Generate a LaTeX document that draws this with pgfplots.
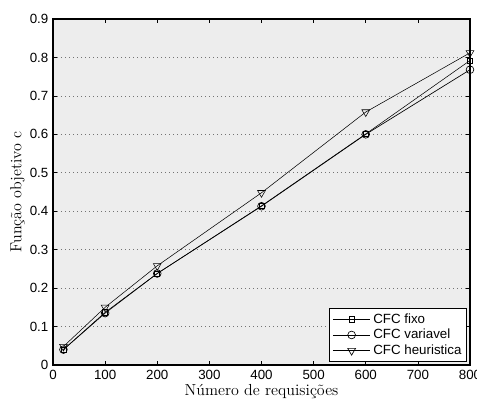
\documentclass[border=0pt]{standalone}
\usepackage{fontspec}
\setsansfont{Liberation Sans}
\usepackage{pgfplots}
\pgfplotsset{compat=1.18}
\begin{document}
\begin{tikzpicture}
\begin{axis}[
  name=ax,
  scale only axis,
  width=312.75pt, height=259.5pt,
  xmin=0, xmax=800, ymin=0, ymax=0.9,
  xtick={0,100,...,800},
  ytick={0,0.1,...,0.9},
  yticklabels={0,0.1,0.2,0.3,0.4,0.5,0.6,0.7,0.8,0.9},
  ymajorgrids,
  major grid style={dash pattern=on 0.6pt off 2.4pt, black!55, line width=0.5pt},
  axis background/.style={fill=black!7},
  axis line style={line width=0.8pt},
  tick style={black, line width=0.5pt},
  major tick length=3pt,
  tick label style={font=\sffamily\fontsize{10}{12}\selectfont},
  /pgf/number format/assume math mode=true,
  xlabel={Número de requisições},
  ylabel={\addfontfeatures{LetterSpace=12}Função objetivo c},
  label style={font=\fontsize{12}{14}\selectfont},
  xlabel style={yshift=3pt},
  ylabel style={yshift=-3pt},
  legend style={at={(rel axis cs:1,0)}, anchor=south east, xshift=-2pt, yshift=2pt, font=\sffamily\fontsize{10}{12}\selectfont, draw=black, line width=0.8pt, inner sep=2pt, row sep=-1pt, fill=white},
  legend cell align=left,
  legend image code/.code={\draw[mark repeat=2,mark phase=2,#1,line width=0.5pt] plot coordinates {(0pt,0pt) (14pt,0pt) (28pt,0pt)};},
  cycle list={{black, line width=0.5pt}},
  every axis plot/.append style={mark options={solid, fill=none, line width=0.5pt}},
]
\addplot+[mark=square, mark size=1.9pt] coordinates {(20,0.040) (100,0.137) (200,0.238) (400,0.414) (600,0.601) (800,0.792)};
\addplot+[mark=o, mark size=2.9pt] coordinates {(20,0.040) (100,0.135) (200,0.238) (400,0.413) (600,0.600) (800,0.768)};
\addplot+[mark=triangle, mark size=3.4pt, mark options={rotate=180}] coordinates {(20,0.048) (100,0.150) (200,0.258) (400,0.448) (600,0.658) (800,0.812)};
\legend{CFC fixo, CFC variavel, CFC heuristica}
\end{axis}
\pgfresetboundingbox
\useasboundingbox ([shift={(-39.75pt,-27pt)}]ax.south west) rectangle ([shift={(5.25pt,14.25pt)}]ax.north east);
\end{tikzpicture}
\end{document}
